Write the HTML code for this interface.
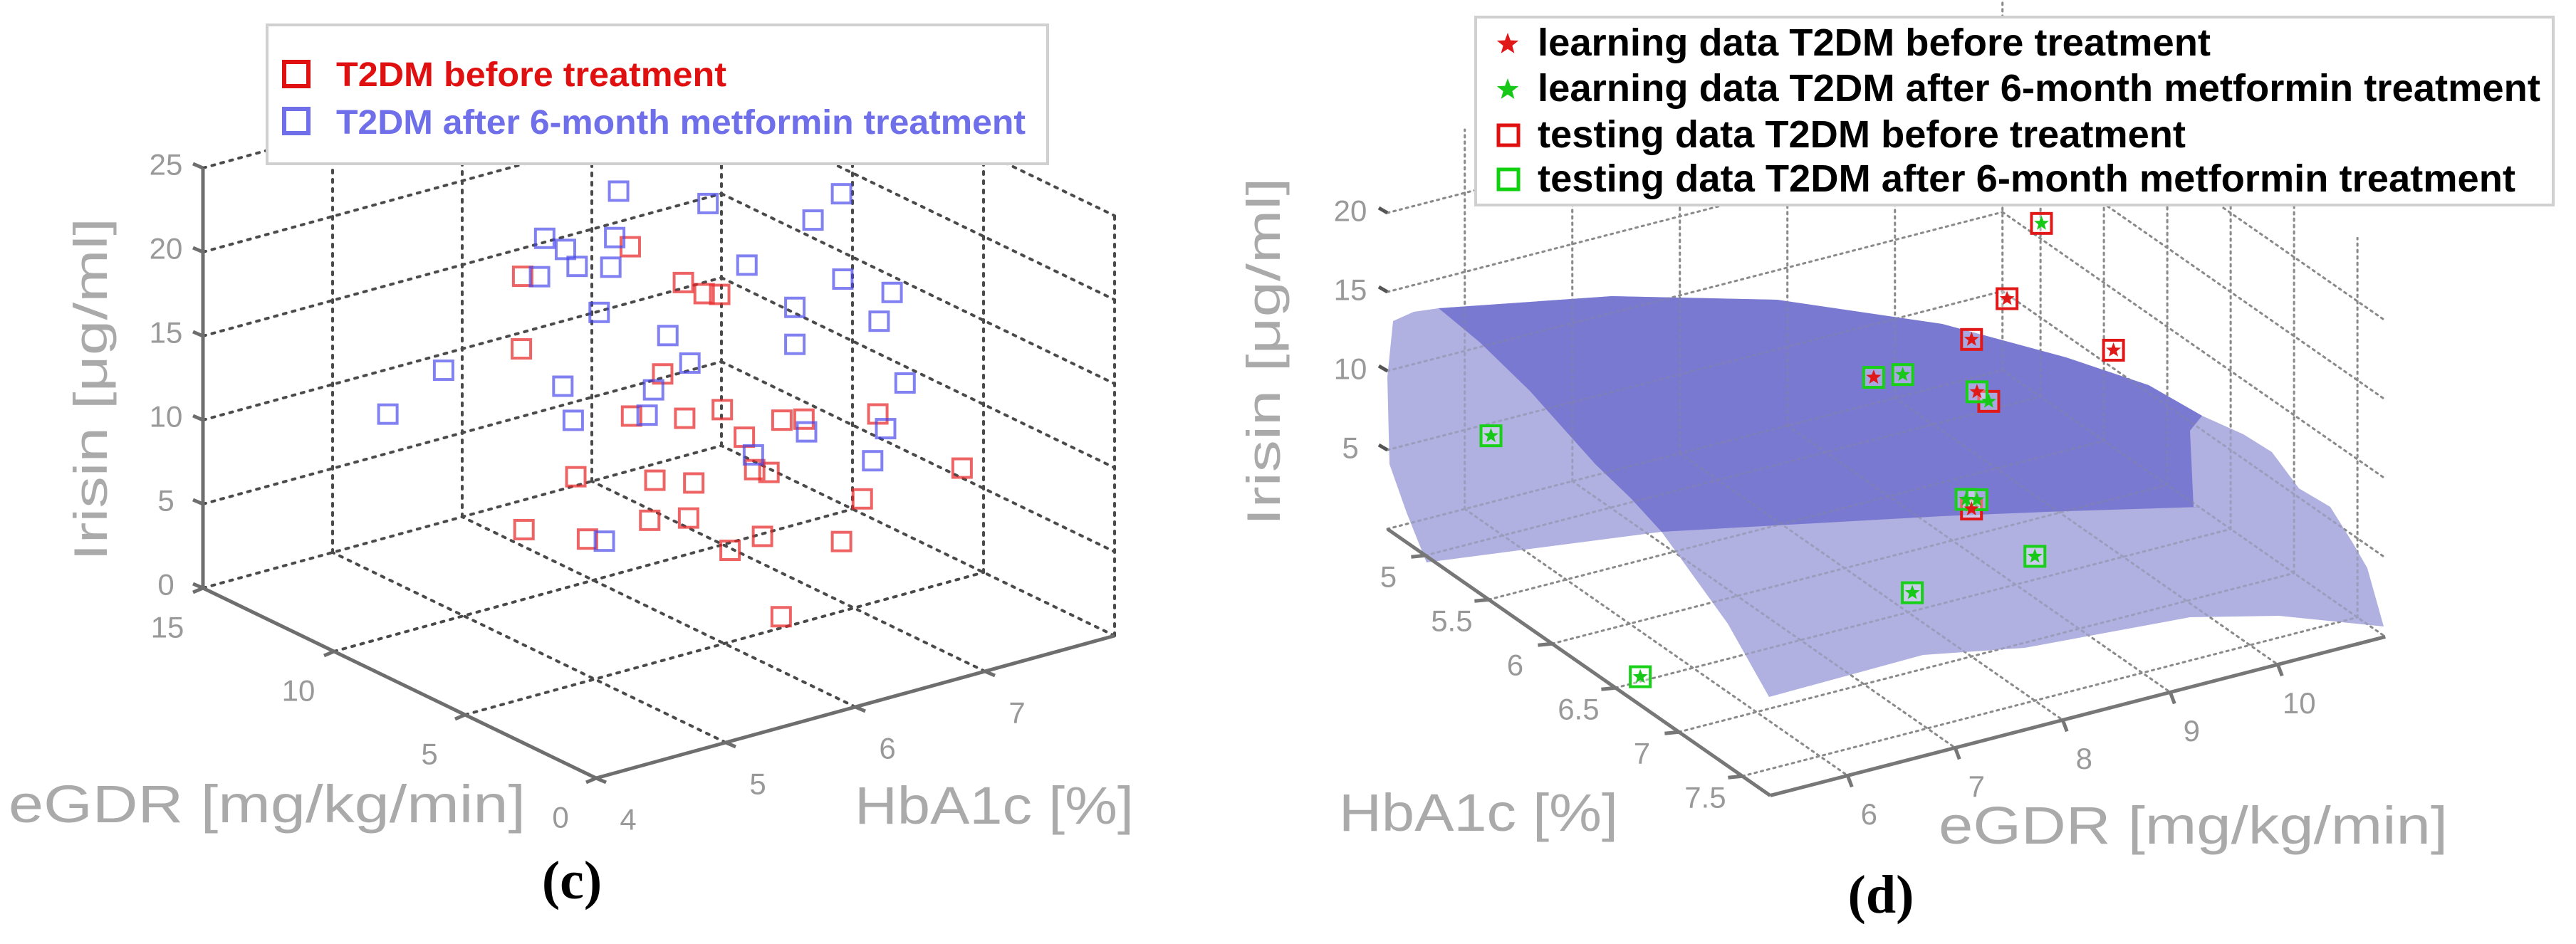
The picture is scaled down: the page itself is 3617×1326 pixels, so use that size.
<!DOCTYPE html>
<html><head><meta charset="utf-8"><style>
html,body{margin:0;padding:0;background:#fff;}
svg{display:block;font-family:"Liberation Sans",sans-serif;}
</style></head>
<body>
<svg id="fig" width="3617" height="1326" viewBox="0 0 3617 1326" xmlns="http://www.w3.org/2000/svg">
  <g id="panelC">
    <g id="gridC"></g>
    <g id="axesC"></g>
    <g id="ptsC"></g>
    <text transform="translate(150,547) rotate(-90)" text-anchor="middle" font-size="66" fill="#aaa" textLength="482" lengthAdjust="spacingAndGlyphs">Irisin [μg/ml]</text>
    <text x="12" y="1155" font-size="74" fill="#aaa" textLength="726" lengthAdjust="spacingAndGlyphs">eGDR [mg/kg/min]</text>
    <text x="1200" y="1157" font-size="74" fill="#aaa" textLength="392" lengthAdjust="spacingAndGlyphs">HbA1c [%]</text>
    <text x="803" y="1262" text-anchor="middle" font-family="'Liberation Serif',serif" font-weight="bold" font-size="76" fill="#000">(c)</text>
    <g>
      <rect x="375" y="35" width="1096" height="195" fill="#fff" stroke="#d0d0d0" stroke-width="4"/>
      <rect x="399" y="87" width="34" height="34" fill="none" stroke="#e01010" stroke-width="6"/>
      <text x="472" y="121" font-size="48" font-weight="bold" fill="#e01010" textLength="548" lengthAdjust="spacingAndGlyphs">T2DM before treatment</text>
      <rect x="399" y="153" width="34" height="34" fill="none" stroke="#6f6fea" stroke-width="6"/>
      <text x="472" y="188" font-size="48" font-weight="bold" fill="#6f6fea" textLength="968" lengthAdjust="spacingAndGlyphs">T2DM after 6-month metformin treatment</text>
    </g>
  </g>
  <g id="panelD">
    <g id="gridD"></g>
    <g>
      <path fill="#a9a9de" fill-opacity="0.92" d="M1956,451 L1985,438 L2020,433 L2263,416 L2495,421 L2727,455 L2901,502 L3017,541 L3092,584 L3150,610 L3190,635 L3228,686 L3272,712 L3305,765 L3324,798 L3347,880 L3200,865 L3075,867 L2843,910 L2700,920 L2484,979 L2426,876 L2333,747 L2003,790 L1975,720 L1951,652 L1948,530 Z"/>
      <path fill="#7474d0" fill-opacity="0.92" d="M2020,433 L2263,416 L2495,421 L2727,455 L2901,502 L3017,541 L3092,584 L3075,605 L3080,712 L3092,712 L2900,718 L2727,725 L2333,747 L2290,700 L2240,652 L2148,549 L2078,481 Z"/>
    </g>
    <g id="gridD2" opacity="0.35"></g>
    <g id="axesD"></g>
    <g id="ptsD"></g>
    <text transform="translate(1797,494) rotate(-90)" text-anchor="middle" font-size="66" fill="#aaa" textLength="489" lengthAdjust="spacingAndGlyphs">Irisin [μg/ml]</text>
    <text x="1880" y="1167" font-size="74" fill="#aaa" textLength="392" lengthAdjust="spacingAndGlyphs">HbA1c [%]</text>
    <text x="2722" y="1185" font-size="74" fill="#aaa" textLength="715" lengthAdjust="spacingAndGlyphs">eGDR [mg/kg/min]</text>
    <text x="2641" y="1282" text-anchor="middle" font-family="'Liberation Serif',serif" font-weight="bold" font-size="76" fill="#000">(d)</text>
    <g id="legendD">
      <rect x="2072" y="24" width="1513" height="264" fill="#fff" stroke="#d0d0d0" stroke-width="4"/>
      <text x="2159" y="78" font-size="54" font-weight="bold" fill="#000" textLength="945" lengthAdjust="spacingAndGlyphs">learning data T2DM before treatment</text>
      <text x="2159" y="142" font-size="54" font-weight="bold" fill="#000" textLength="1408" lengthAdjust="spacingAndGlyphs">learning data T2DM after 6-month metformin treatment</text>
      <rect x="2104" y="176" width="28" height="28" fill="none" stroke="#e01010" stroke-width="5"/>
      <text x="2159" y="207" font-size="54" font-weight="bold" fill="#000" textLength="910" lengthAdjust="spacingAndGlyphs">testing data T2DM before treatment</text>
      <rect x="2104" y="238" width="28" height="28" fill="none" stroke="#10d010" stroke-width="5"/>
      <text x="2159" y="269" font-size="54" font-weight="bold" fill="#000" textLength="1373" lengthAdjust="spacingAndGlyphs">testing data T2DM after 6-month metformin treatment</text>
    </g>
  </g>
</svg>
<script>
// ---------- Panel (c) data ----------
var beforeEgdr = [7.5,7.5,7.5,7.5,7.5,7.5,7.5,7.5,7.5,7.5,7.5,7.5,7.5,7.5,7.5,7.5,7.5,7.5,7.5,7.5,7.5,7.5,7.5,7.5,7.5,7.5,7.5,7.5,1.0];
var beforeHba1c = [4.95,5.78,4.94,6.19,6.35,6.47,6.03,5.79,6.20,5.36,5.97,6.27,5.93,6.23,4.96,5.45,6.49,6.95,7.12,7.69,6.66,6.74,6.85,8.34,7.57,6.80,6.55,7.41,5.63];
var beforeIrisin = [22.2,22.2,17.9,19.2,18.2,17.9,14.1,12.1,11.1,9.4,7.9,7.1,5.6,5.1,7.1,5.5,11.0,9.4,9.1,8.2,9.0,6.9,6.5,3.6,3.4,2.8,2.5,1.2,5.4];
var afterEgdr = [7.5,7.5,7.5,7.5,7.5,7.5,7.5,7.5,7.5,7.5,7.5,7.5,7.5,7.5,7.5,7.5,7.5,7.5,7.5,7.5,7.5,7.5,7.5,7.5,7.5,7.5,7.5,7.5,7.5,7.5,7.5];
var afterHba1c = [5.69,5.12,5.28,5.37,5.66,5.63,5.08,5.54,4.34,3.91,5.26,5.34,6.07,6.24,5.96,5.91,5.58,6.38,7.41,7.19,6.68,7.42,7.80,7.05,7.70,7.05,7.90,7.14,7.75,6.73,7.65];
var afterIrisin = [25.7,24.1,23.1,21.9,23.0,21.3,21.9,18.8,17.9,16.2,15.0,12.8,16.3,14.3,13.3,11.9,5.1,23.5,21.9,20.8,19.2,16.8,15.2,15.9,13.7,13.7,9.6,8.3,7.2,7.8,5.5];
var cZTicks = [0,5,10,15,20,25];
var cEgdrTicks = [0,5,10,15];
var cHbTicks = [4,5,6,7];

// ---------- Panel (d) data ----------
var learnBeforeHb = [6,6,6,6,6,6.5];
var learnBeforeEgdr = [8.27,9.51,9.18,10.50,9.23,8.59];
var learnBeforeIrisin = [11.6,14.4,12.4,9.4,9.0,5.5];
var learnAfterHb = [5,6,6.5,7,6,6,6.5,6.5,7];
var learnAfterEgdr = [5.89,8.54,5.51,7.45,9.83,9.34,8.54,8.64,8.59];
var learnAfterIrisin = [6.5,11.3,0.3,5.0,18.6,8.2,6.2,6.0,5.3];
var testBeforeHb = [6,6,6,6,6,6.5];
var testBeforeEgdr = [9.83,9.51,9.18,10.50,9.34,8.59];
var testBeforeIrisin = [18.6,14.4,12.4,9.4,8.2,5.5];
var testAfterHb = [5,6,6,6.5,7,6,6.5,6.5,7];
var testAfterEgdr = [5.89,8.27,8.54,5.51,7.45,9.23,8.54,8.64,8.59];
var testAfterIrisin = [6.5,11.6,11.3,0.3,5.0,9.0,6.2,6.0,5.3];
var dZTicks = [5,10,15,20];
var dHbTicks = [5,5.5,6,6.5,7,7.5];
var dEgdrTicks = [6,7,8,9,10];

var NS = "http://www.w3.org/2000/svg";
function mk(parent, tag, attrs) {
  var el = document.createElementNS(NS, tag);
  for (var k in attrs) el.setAttribute(k, attrs[k]);
  parent.appendChild(el);
  return el;
}
function projC(e, h, z) { return [837 - 36.8 * e + 182 * (h - 4), 1093 - 17.8 * e - 50 * (h - 4) - 23.6 * z]; }
function projD(h, e, z) { return [1948 + (h - 4.7) * 178 + (e - 5.28) * 151, 743 + (h - 4.7) * 124 - (e - 5.28) * 39 - 22.2 * z]; }
function lineP(g, a, b, style, name) {
  var el = mk(g, "line", {x1: a[0], y1: a[1], x2: b[0], y2: b[1], stroke: style.stroke, "stroke-width": style.w, "stroke-dasharray": style.dash || "none", "stroke-linecap": style.cap || "butt"});
  
  
  return el;
}
function label(g, x, y, txt, size, name) {
  var t = mk(g, "text", {x: x, y: y, "text-anchor": "middle", "dominant-baseline": "central", "font-size": size, fill: "#999"});
  t.textContent = txt;
  
  
  return t;
}

// ---------- Panel (c) grid ----------
var gC = document.getElementById("gridC");
var dotC = {stroke: "#4a4a4a", w: 4, dash: "4 9", cap: "round"};
cZTicks.forEach(function (z) {
  if (z === 0) return;
  lineP(gC, projC(15, 4, z), projC(15, 8, z), dotC, "grid-wall-egdr-z");
  lineP(gC, projC(15, 8, z), projC(0, 8, z), dotC, "grid-wall-hba1c-z");
});
[5, 6, 7, 8].forEach(function (h) { lineP(gC, projC(15, h, 0), projC(15, h, 25), dotC, "grid-wall-vertical-h"); });
[10, 5, 0].forEach(function (e) { lineP(gC, projC(e, 8, 0), projC(e, 8, 25), dotC, "grid-wall-vertical-e"); });
[5, 10, 15].forEach(function (e) { lineP(gC, projC(e, 4, 0), projC(e, 8, 0), dotC, "grid-floor-e"); });
[5, 6, 7, 8].forEach(function (h) { lineP(gC, projC(0, h, 0), projC(15, h, 0), dotC, "grid-floor-h"); });

// ---------- Panel (c) axes ----------
var aC = document.getElementById("axesC");
var solidC = {stroke: "#6e6e6e", w: 5};
lineP(aC, projC(15, 4, 0), projC(15, 4, 25), solidC, "z-axis");
lineP(aC, projC(15, 4, 0), projC(0, 4, 0), solidC, "egdr-axis");
lineP(aC, projC(0, 4, 0), projC(0, 8, 0), solidC, "hba1c-axis");
cZTicks.forEach(function (z) {
  var p = projC(15, 4, z);
  lineP(aC, [p[0] - 14, p[1] - 6], p, solidC, "z-tick");
  label(aC, p[0] - 52, p[1] - 5, String(z), 42, "z-tick-label");
});
cEgdrTicks.forEach(function (e) {
  var p = projC(e, 4, 0);
  lineP(aC, [p[0] - 14, p[1] + 6], p, solidC, "egdr-tick");
  label(aC, p[0] - 50, p[1] + 55, String(e), 42, "egdr-tick-label");
});
cHbTicks.forEach(function (h) {
  var p = projC(0, h, 0);
  lineP(aC, [p[0] + 14, p[1] + 6], p, solidC, "hba1c-tick");
  label(aC, p[0] + 45, p[1] + 58, String(h), 42, "hba1c-tick-label");
});

// ---------- Panel (c) points ----------
var pC = document.getElementById("ptsC");
var S = 26;
beforeEgdr.forEach(function (e, i) {
  var p = projC(e, beforeHba1c[i], beforeIrisin[i]);
  var r = mk(pC, "rect", {x: p[0] - S / 2, y: p[1] - S / 2, width: S, height: S, fill: "none", stroke: "rgba(232,40,40,0.72)", "stroke-width": 4});
  
  
});
afterEgdr.forEach(function (e, i) {
  var p = projC(e, afterHba1c[i], afterIrisin[i]);
  var r = mk(pC, "rect", {x: p[0] - S / 2, y: p[1] - S / 2, width: S, height: S, fill: "none", stroke: "rgba(70,70,235,0.68)", "stroke-width": 4});
  
  
});

// ---------- Panel (d) grid ----------
function drawGridD(g) {
  var dotD = {stroke: "#8a8a8a", w: 3, dash: "3 6", cap: "round"};
  dZTicks.forEach(function (z) {
    lineP(g, projD(4.7, 5.28, z), projD(4.7, 11, z), dotD, "grid-wall-hba1c-z");
    lineP(g, projD(4.7, 11, z), projD(7.72, 11, z), dotD, "grid-wall-egdr-z");
  });
  [6, 7, 8, 9, 10, 11].forEach(function (e) { lineP(g, projD(4.7, e, 0), projD(4.7, e, 24), dotD, "grid-wall-vertical-e"); });
  [5, 5.5, 6, 6.5, 7, 7.5].forEach(function (h) { lineP(g, projD(h, 11, 0), projD(h, 11, 24), dotD, "grid-wall-vertical-h"); });
  lineP(g, projD(4.7, 5.28, 0), projD(4.7, 11, 0), dotD, "grid-floor-edge");
  lineP(g, projD(4.7, 11, 0), projD(7.72, 11, 0), dotD, "grid-floor-edge");
  dEgdrTicks.forEach(function (e) { lineP(g, projD(4.7, e, 0), projD(7.72, e, 0), dotD, "grid-floor-e"); });
  dHbTicks.forEach(function (h) { lineP(g, projD(h, 5.28, 0), projD(h, 11, 0), dotD, "grid-floor-h"); });
}
drawGridD(document.getElementById("gridD"));
drawGridD(document.getElementById("gridD2"));

// ---------- Panel (d) axes ----------
var aD = document.getElementById("axesD");
var solidD = {stroke: "#777", w: 5};
lineP(aD, projD(4.7, 5.28, 0), projD(7.72, 5.28, 0), solidD, "hba1c-axis");
lineP(aD, projD(7.72, 5.28, 0), projD(7.72, 11, 0), solidD, "egdr-axis");
dZTicks.forEach(function (z) {
  var p = projD(4.7, 5.28, z);
  lineP(aD, [p[0] - 12, p[1] - 7], [p[0], p[1]], {stroke: "#555", w: 5}, "z-tick");
  label(aD, p[0] - 52, p[1] - 3, String(z), 42, "z-tick-label");
});
dHbTicks.forEach(function (h) {
  var p = projD(h, 5.28, 0);
  lineP(aD, [p[0] - 20, p[1] + 2], p, solidD, "hba1c-tick");
  label(aD, p[0] - 52, p[1] + 30, String(h), 42, "hba1c-tick-label");
});
dEgdrTicks.forEach(function (e) {
  var p = projD(7.72, e, 0);
  lineP(aD, [p[0] + 6, p[1] + 16], p, solidD, "egdr-tick");
  label(aD, p[0] + 30, p[1] + 54, String(e), 42, "egdr-tick-label");
});

// ---------- Panel (d) points ----------
var pD = document.getElementById("ptsD");
function starPts(cx, cy, R) {
  var pts = [];
  for (var k = 0; k < 10; k++) {
    var a = -Math.PI / 2 + k * Math.PI / 5;
    var r = k % 2 === 0 ? R : R * 0.42;
    pts.push((cx + r * Math.cos(a)).toFixed(1) + "," + (cy + r * Math.sin(a)).toFixed(1));
  }
  return pts.join(" ");
}
var Q = 28;
testBeforeHb.forEach(function (h, i) {
  var p = projD(h, testBeforeEgdr[i], testBeforeIrisin[i]);
  var r = mk(pD, "rect", {x: p[0] - Q / 2, y: p[1] - Q / 2, width: Q, height: Q, fill: "#fff", "fill-opacity": "0.35", stroke: "#e01818", "stroke-width": 4});
  
  
});
testAfterHb.forEach(function (h, i) {
  var p = projD(h, testAfterEgdr[i], testAfterIrisin[i]);
  var r = mk(pD, "rect", {x: p[0] - Q / 2, y: p[1] - Q / 2, width: Q, height: Q, fill: "#fff", "fill-opacity": "0.35", stroke: "#18d018", "stroke-width": 4});
  
  
});
learnBeforeHb.forEach(function (h, i) {
  var p = projD(h, learnBeforeEgdr[i], learnBeforeIrisin[i]);
  var s = mk(pD, "polygon", {points: starPts(p[0], p[1], 11), fill: "#e01818"});
  
  
});
learnAfterHb.forEach(function (h, i) {
  var p = projD(h, learnAfterEgdr[i], learnAfterIrisin[i]);
  var s = mk(pD, "polygon", {points: starPts(p[0], p[1], 11), fill: "#18c818"});
  
  
});
// legend stars
var lg = document.getElementById("legendD");
var s1 = mk(lg, "polygon", {points: starPts(2117, 62, 16), fill: "#e01818"});


var s2 = mk(lg, "polygon", {points: starPts(2117, 126, 16), fill: "#18c818"});


</script>
</body></html>
